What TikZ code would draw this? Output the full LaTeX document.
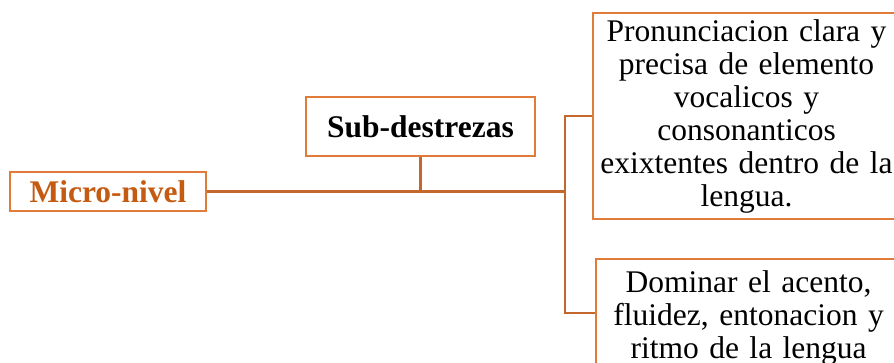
\documentclass[tikz,border=0pt]{standalone}
\usepackage{fontspec}
\setmainfont{Liberation Serif}
\definecolor{boxc}{HTML}{E07B39}
\definecolor{linec}{HTML}{C4672D}
\definecolor{txtc}{HTML}{C55A11}
\begin{document}
\begin{tikzpicture}[x=1pt,y=-1pt,
  box/.style={draw=boxc, line width=2.2pt, fill=white, inner sep=0pt, align=center,
    font=\fontsize{31.5}{33}\selectfont},
  conn/.style={draw=linec, line width=2.4pt}]
\clip (0,0) rectangle (894,363);
\node[box, minimum width=196pt, minimum height=39pt, text=txtc, font=\fontsize{31.5}{33}\selectfont\bfseries] (micro) at (108,191.5) {Micro-nivel};
\node[box, minimum width=229pt, minimum height=59pt, font=\fontsize{31.5}{33}\selectfont\bfseries] (sub) at (420.5,126.5) {Sub-destrezas};
\node[box, minimum width=307pt, minimum height=206pt, text width=300pt] (pron) at (746.5,116)
  {Pronunciacion clara y\\precisa de elemento\\vocalicos y\\consonanticos\\exixtentes dentro de la\\lengua.};
\node[box, anchor=north west, minimum width=305pt, text width=300pt, inner ysep=12pt] (dom) at (595,258)
  {Dominar el acento,\\fluidez, entonacion y\\ritmo de la lengua};
\coordinate (hub) at (565,191.5);
\draw[conn] (micro.east) -- (hub);
\draw[conn] (sub.south) -- (sub.south |- hub);
\draw[conn] (hub) |- (pron.west);
\draw[conn] (hub) |- ([yshift=-55pt]dom.north west);
\end{tikzpicture}
\end{document}
